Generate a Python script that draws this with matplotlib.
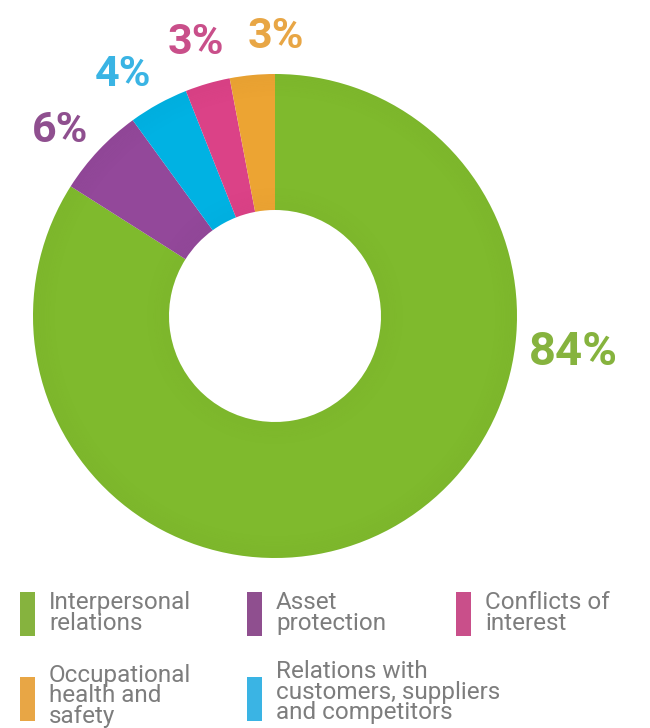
import matplotlib
matplotlib.use("Agg")
import matplotlib.pyplot as plt
from matplotlib import font_manager
from matplotlib.patches import Wedge

# Share of reports by topic
categories = ["Interpersonal relations", "Asset protection", "Relations with customers, suppliers and competitors",
              "Conflicts of interest", "Occupational health and safety"]
shares = [84, 6, 4, 3, 3]
wedge_colors = ["#7fba2d", "#93489a", "#00b2e3", "#db4287", "#eca433"]
label_colors = ["#86b33e", "#8f4f8f", "#3ab4e4", "#c94f8a", "#e8a645"]

legend_items = [
    ("Interpersonal\nrelations", "#86b33e"),
    ("Asset\nprotection", "#8f4f8f"),
    ("Conflicts of\ninterest", "#c94f8a"),
    ("Occupational\nhealth and\nsafety", "#e8a645"),
    ("Relations with\ncustomers, suppliers\nand competitors", "#3ab4e4"),
]

names = {f.name for f in font_manager.fontManager.ttflist}
num_font = "Liberation Sans Narrow" if "Liberation Sans Narrow" in names else "Roboto"
txt_font = "Roboto"

W, H = 650, 728
fig = plt.figure(figsize=(W / 100, H / 100), dpi=100)

cx, cy, R = 275, 316, 242
ax = fig.add_axes([(cx - R) / W, 1 - (cy + R) / H, 2 * R / W, 2 * R / H])

inner = 106 / R
wedges, _ = ax.pie(shares, colors=wedge_colors, startangle=90, counterclock=False,
                   radius=1, wedgeprops=dict(width=1 - inner, linewidth=0))

# soft darkening toward the ring's edges
steps = 14
for i in range(steps):
    a = 0.018 * (1 - i / steps)
    w = (1 - inner) / 2 * 0.35 / steps
    ax.add_patch(Wedge((0, 0), 1 - i * w, 0, 360, width=w, color="black", alpha=a, lw=0))
    ax.add_patch(Wedge((0, 0), inner + (i + 1) * w, 0, 360, width=w, color="black", alpha=a * 0.8, lw=0))

ax.set_xlim(-1, 1)
ax.set_ylim(-1, 1)
ax.set_aspect("equal")
ax.axis("off")

# percentage labels
label_pos = [(573, 352), (60, 130), (123, 75), (196, 42), (276, 36)]
for s, c, (px, py) in zip(shares, label_colors, label_pos):
    fig.text(px / W, 1 - py / H, f"{s}%", color=c, fontsize=34 if s == 84 else 31,
             fontweight="bold", family=num_font, ha="center", va="center")

# legend
legend_xy = [(20, 592), (247, 592), (456, 592), (20, 677), (247, 677)]
text_y = [613, 613, 613, 696, 692]
for (lab, col), (sx, sy), ty in zip(legend_items, legend_xy, text_y):
    fig.patches.append(plt.Rectangle((sx / W, 1 - (sy + 44) / H), 15 / W, 44 / H,
                                     transform=fig.transFigure, color=col, lw=0))
    fig.text((sx + 29) / W, 1 - ty / H, lab, color="#7d7d7d", fontsize=17.5, family=txt_font,
             ha="left", va="center", linespacing=0.88)

fig.savefig("out.png", dpi=100)
